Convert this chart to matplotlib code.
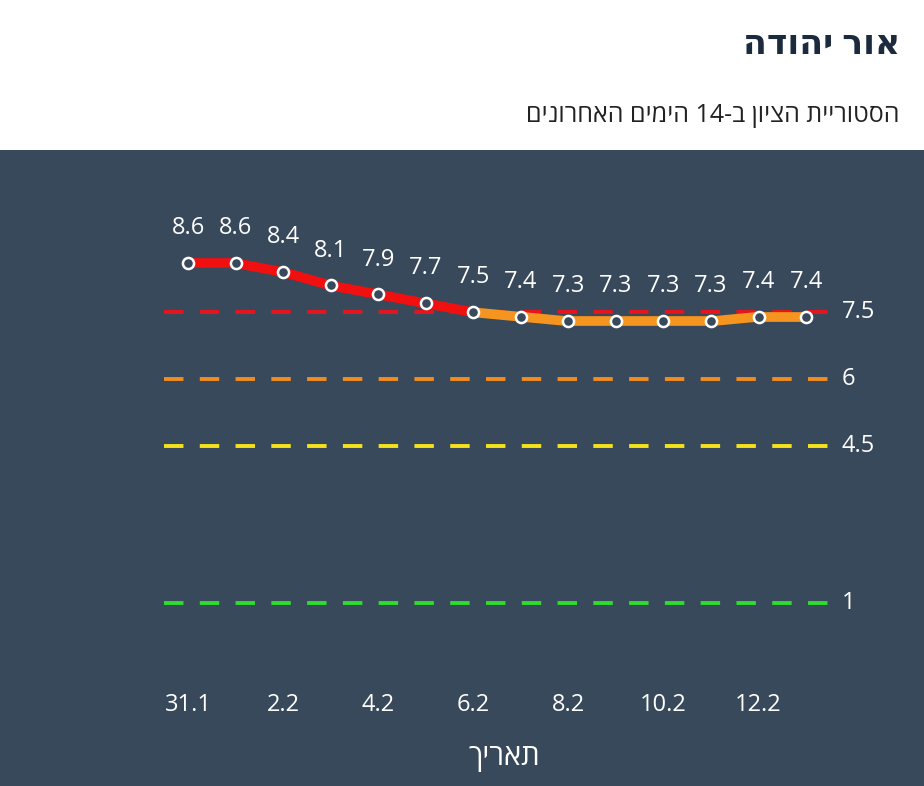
import re
import matplotlib
matplotlib.use("Agg")
import matplotlib.pyplot as plt

plt.rcParams['font.family'] = ['Open Sans', 'DejaVu Sans']

def heb(s):
    # matplotlib has no bidi: flip the string, then put digit runs back in order
    r = s[::-1]
    return re.sub(r'[0-9.]+', lambda m: m.group(0)[::-1], r)

values = [8.6, 8.6, 8.4, 8.1, 7.9, 7.7, 7.5, 7.4, 7.3, 7.3, 7.3, 7.3, 7.4, 7.4]
tick_labels = ['31.1', '2.2', '4.2', '6.2', '8.2', '10.2', '12.2']
thresholds = [7.5, 6, 4.5, 1]
threshold_labels = ['7.5', '6', '4.5', '1']
threshold_colors = ['#e8141c', '#f28c1e', '#f5e21c', '#2fdc2f']

bg = '#37495a'
fig = plt.figure(figsize=(9.24, 7.86), dpi=100)
fig.text(900/924, 1-45/786, heb('אור יהודה'), ha='right', va='center',
         fontsize=25, fontweight='bold', color='#1b2a3d')
fig.text(900/924, 1-115/786, heb('הסטוריית הציון ב-14 הימים האחרונים'),
         ha='right', va='center', fontsize=18, color='#222222')

ax = fig.add_axes([0, 0, 1, (786-150)/786])
ax.set_facecolor(bg)
for s in ax.spines.values():
    s.set_visible(False)
ax.set_xticks([]); ax.set_yticks([])
ax.set_xlim(-3.955, 15.48)
ax.set_ylim(-3.094, 11.13)

for t, lab, c in zip(thresholds, threshold_labels, threshold_colors):
    ax.plot([-0.5, 13.5], [t, t], color=c, lw=2.8, dashes=(5, 4.2), zorder=2)
    ax.text(13.75, t, lab, color='white', fontsize=17, va='center', ha='left')

x = list(range(len(values)))
for i in range(len(values)-1):
    c = '#f01010' if max(values[i], values[i+1]) > 7.5 else '#f5941e'
    ax.plot(x[i:i+2], values[i:i+2], color=c, lw=7, solid_capstyle='round', zorder=3)
ax.plot(x, values, 'o', ms=8, mfc=bg, mec='white', mew=1.8, zorder=4)
for xi, v in zip(x, values):
    ax.text(xi, v + 0.78, f'{v}', color='white', fontsize=17, ha='center', va='center')

for i, lab in enumerate(tick_labels):
    ax.text(i*2, -1.28, lab, color='white', fontsize=17, ha='center', va='center')
ax.text(6.65, -2.45, heb('תאריך'), color='white', fontsize=21, ha='center', va='center')

fig.savefig('out.png', dpi=100, facecolor='white')
